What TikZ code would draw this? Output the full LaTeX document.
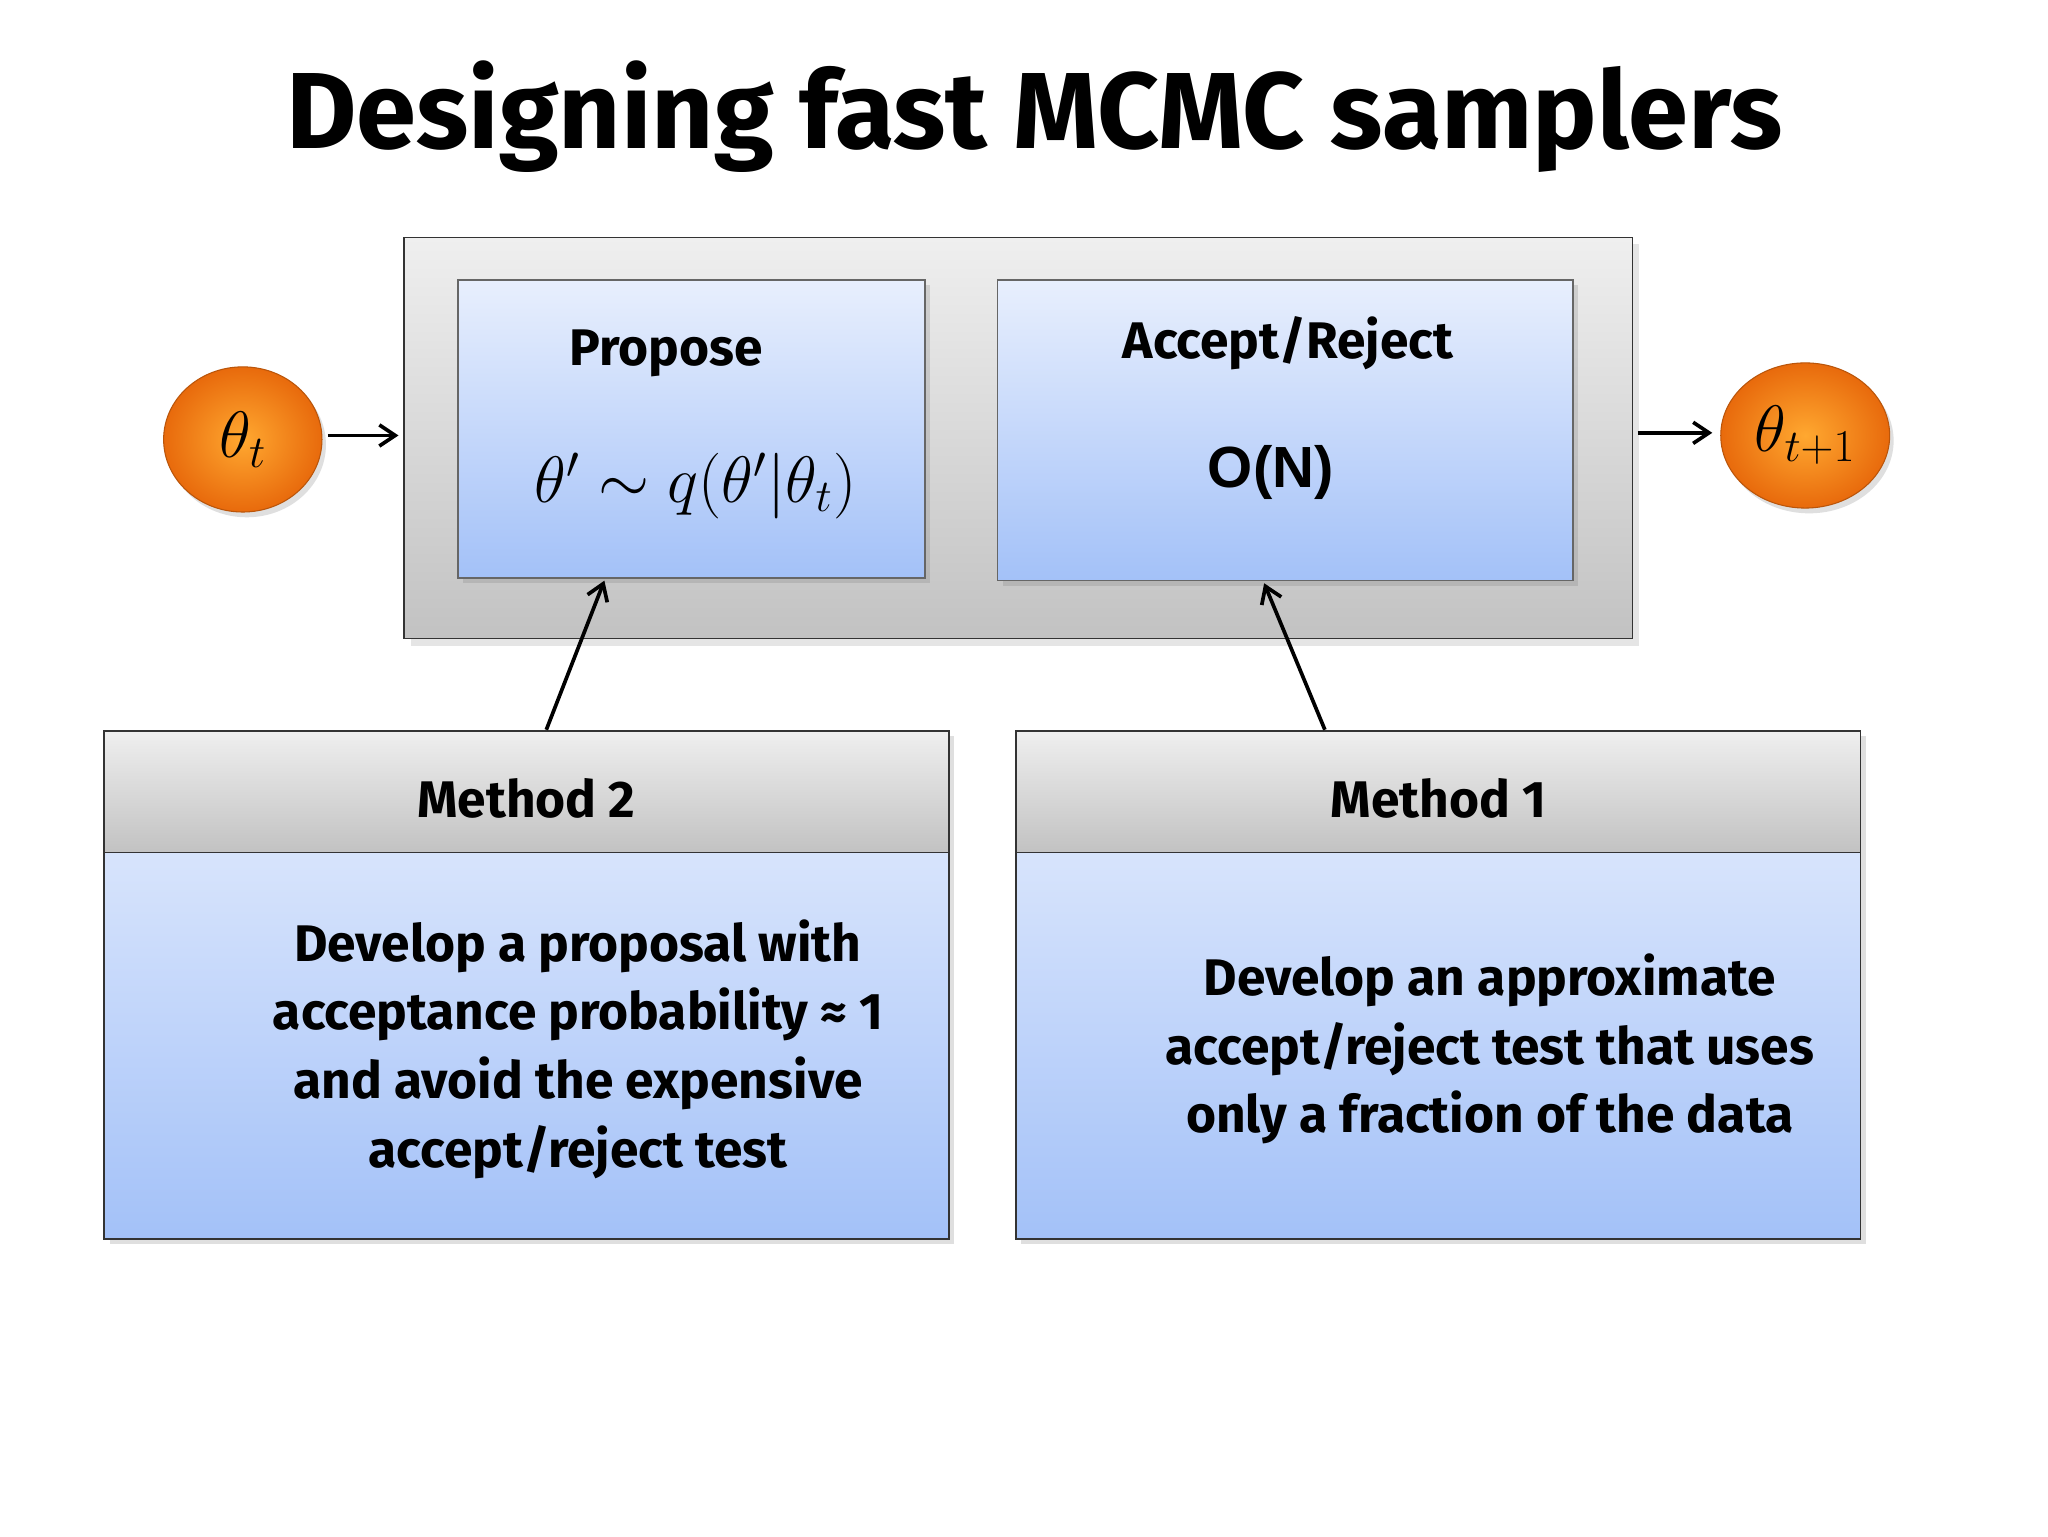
\documentclass[tikz,border=0pt]{standalone}
\usepackage{fontspec}
\setmainfont{Fira Sans}
\newfontfamily\arialf{Liberation Sans}
\usetikzlibrary{shadows,arrows.meta,shapes.geometric}
\definecolor{bluetop}{HTML}{E8EFFD}
\definecolor{bluebot}{HTML}{A3C1F8}
\definecolor{graytop}{HTML}{EFEFEF}
\definecolor{graybot}{HTML}{C2C2C2}
\definecolor{orangec}{HTML}{E86A0C}
\definecolor{orangel}{HTML}{FFA830}
\tikzset{
  bluebox/.style={draw=black!60, line width=0.6pt, top color=bluetop, bottom color=bluebot, drop shadow={opacity=0.25,shadow xshift=2pt,shadow yshift=-2pt}},
  graybox/.style={draw=black!80, line width=0.6pt, top color=graytop, bottom color=graybot},
  ball/.style={ellipse, minimum width=60pt, minimum height=55pt, inner sep=0pt, inner color=orangel, outer color=orangec, draw=orangec!80!black, line width=0.4pt, font=\fontsize{24}{24}\selectfont, drop shadow={opacity=0.25,shadow xshift=1.5pt,shadow yshift=-2pt}},
  arr/.style={-{Straight Barb[length=6pt,width=8pt]}, line width=1.4pt},
  lbl/.style={font=\bfseries\fontsize{19.5}{26}\selectfont, align=center},
}
\begin{document}
\begin{tikzpicture}[x=0.5pt,y=-0.5pt]
\useasboundingbox[fill=white] (0,0) rectangle (1552,1164);
\node[font=\bfseries\fontsize{41}{41}\selectfont] (title) at (784,88) {Designing fast MCMC samplers};
% outer
\path[graybox, drop shadow={opacity=0.2}] (306,180) rectangle (1237,484);
\coordinate (outerL) at (306,330);
\coordinate (outerR) at (1237,328);
\path[bluebox] (347,212) rectangle (701,438);
\path[bluebox] (756,212) rectangle (1192,440);
\coordinate (propB) at (458,440);
\coordinate (accB) at (958,442);
\node[lbl] (prop) at (505,268) {Propose};
\node[font=\fontsize{24}{24}\selectfont] (propm) at (527,368) {$\theta' \sim q(\theta'|\theta_t)$};
\node[lbl] (acc) at (976,260) {Accept/Reject};
\node[font=\arialf\bfseries\fontsize{22}{22}\selectfont] (on) at (963,358) {O(N)};
% balls
\node[ball] (t0) at (184,333) {$\theta_t$};
\node[ball, minimum width=64pt] (t1) at (1368,330) {$\theta_{t+1}$};
\draw[arr] ([xshift=2pt]t0.east |- outerL) -- ([xshift=-2pt]outerL);
\draw[arr] ([xshift=2pt]outerR) -- ([xshift=-3pt]t1.west |- outerR);
% methods
\path[bluebox] (79,554) rectangle (719,939);
\path[graybox] (79,554) rectangle (719,646);
\path[bluebox] (770,554) rectangle (1410,939);
\path[graybox] (770,554) rectangle (1410,646);
\draw[black!80,line width=0.6pt] (79,554) rectangle (719,939) (770,554) rectangle (1410,939);
\node[lbl] (m2) at (399,605) {Method 2};
\node[lbl] (m1) at (1090,605) {Method 1};
\node[lbl] (m2t) at (438,795) {Develop a proposal with\\acceptance probability ≈ 1\\and avoid the expensive\\accept/reject test};
\node[lbl] (m1t) at (1129,795) {Develop an approximate\\accept/reject test that uses\\only a fraction of the data};
\coordinate (m2top) at (414,553);
\coordinate (m1top) at (1004,553);
\draw[arr] (m2top) -- (propB);
\draw[arr] (m1top) -- (accB);
\end{tikzpicture}
\end{document}
